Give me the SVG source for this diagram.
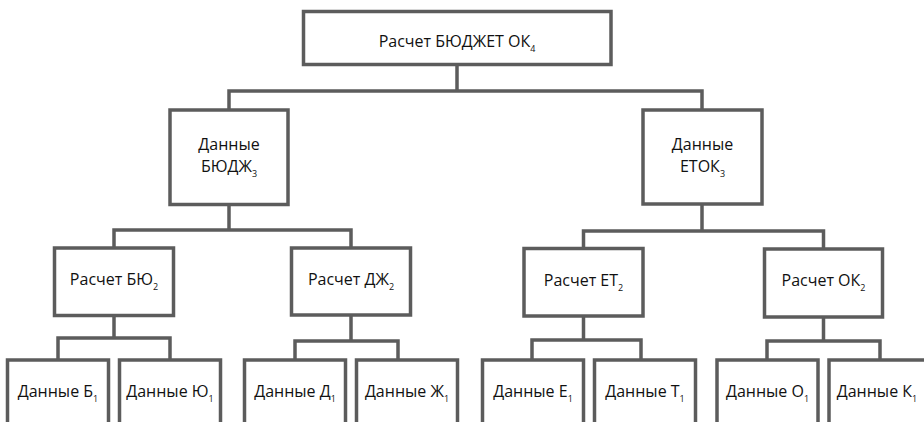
<svg xmlns="http://www.w3.org/2000/svg" width="924" height="422" viewBox="0 0 924 422">
  <style>
    .box { fill: #ffffff; stroke: #5c5c5c; stroke-width: 3.5; }
    .wire { fill: none; stroke: #5c5c5c; stroke-width: 3.5; stroke-linejoin: miter; }
    .lbl { font-family: "Open Sans", "Liberation Sans", sans-serif; font-size: 16px; fill: #111111; text-anchor: middle; }
    .sub { font-size: 9px; }
  </style>
  <rect width="924" height="422" fill="#ffffff"/>

  <!-- connectors -->
  <g id="connectors">
    <path class="wire" d="M457,64.5 V91 M229,110 V91 H702 V110"/>
    <path class="wire" d="M229,204 V230 M114,248 V230 H351 V248"/>
    <path class="wire" d="M702,204 V231 M583.5,248.5 V231 H823.5 V249"/>
    <path class="wire" d="M114,315 V338 M58,360 V338 H170 V360"/>
    <path class="wire" d="M351,315 V341 M295,360 V341 H398 V360"/>
    <path class="wire" d="M583.5,316 V340 M532,360 V340 H641 V360"/>
    <path class="wire" d="M823.5,317 V341 M767,360 V341 H880 V360"/>
  </g>

  <!-- level 4 -->
  <g id="budget">
    <rect class="box" x="303.5" y="11.5" width="307.5" height="53"/>
    <text class="lbl" x="457" y="47">Расчет БЮДЖЕТ ОК<tspan class="sub" dy="4.5">4</tspan></text>
  </g>

  <!-- level 3 -->
  <g id="data-budzh">
    <rect class="box" x="170" y="110" width="118" height="94.5"/>
    <text class="lbl" x="229" y="150">Данные</text>
    <text class="lbl" x="229" y="172">БЮДЖ<tspan class="sub" dy="4.5">3</tspan></text>
  </g>
  <g id="data-etok">
    <rect class="box" x="643" y="110" width="119" height="94"/>
    <text class="lbl" x="702.5" y="150">Данные</text>
    <text class="lbl" x="702.5" y="172">ЕТОК<tspan class="sub" dy="4.5">3</tspan></text>
  </g>

  <!-- level 2 -->
  <g id="calc-byu">
    <rect class="box" x="54.5" y="248" width="119" height="67.5"/>
    <text class="lbl" x="114" y="285">Расчет БЮ<tspan class="sub" dy="4.5">2</tspan></text>
  </g>
  <g id="calc-dzh">
    <rect class="box" x="291.5" y="248" width="119" height="67"/>
    <text class="lbl" x="351" y="285">Расчет ДЖ<tspan class="sub" dy="4.5">2</tspan></text>
  </g>
  <g id="calc-et">
    <rect class="box" x="524" y="248.5" width="119" height="67.5"/>
    <text class="lbl" x="583.5" y="286">Расчет ЕТ<tspan class="sub" dy="4.5">2</tspan></text>
  </g>
  <g id="calc-ok">
    <rect class="box" x="764.5" y="249" width="118" height="68"/>
    <text class="lbl" x="823.5" y="286">Расчет ОК<tspan class="sub" dy="4.5">2</tspan></text>
  </g>

  <!-- level 1 -->
  <g id="data-b">
    <rect class="box" x="7.5" y="360" width="101" height="80"/>
    <text class="lbl" x="58" y="397">Данные Б<tspan class="sub" dy="4.5">1</tspan></text>
  </g>
  <g id="data-yu">
    <rect class="box" x="119.5" y="360" width="101" height="80"/>
    <text class="lbl" x="170" y="397">Данные Ю<tspan class="sub" dy="4.5">1</tspan></text>
  </g>
  <g id="data-d">
    <rect class="box" x="244.5" y="360" width="101" height="80"/>
    <text class="lbl" x="295" y="397">Данные Д<tspan class="sub" dy="4.5">1</tspan></text>
  </g>
  <g id="data-zh">
    <rect class="box" x="356.5" y="360" width="101" height="80"/>
    <text class="lbl" x="407" y="397">Данные Ж<tspan class="sub" dy="4.5">1</tspan></text>
  </g>
  <g id="data-e">
    <rect class="box" x="482.5" y="360" width="101" height="80"/>
    <text class="lbl" x="533" y="397">Данные Е<tspan class="sub" dy="4.5">1</tspan></text>
  </g>
  <g id="data-t">
    <rect class="box" x="594.5" y="360" width="101" height="80"/>
    <text class="lbl" x="645" y="397">Данные Т<tspan class="sub" dy="4.5">1</tspan></text>
  </g>
  <g id="data-o">
    <rect class="box" x="717" y="360" width="101" height="80"/>
    <text class="lbl" x="767.5" y="397">Данные О<tspan class="sub" dy="4.5">1</tspan></text>
  </g>
  <g id="data-k">
    <rect class="box" x="829" y="360" width="101" height="80"/>
    <text class="lbl" x="877" y="397">Данные К<tspan class="sub" dy="4.5">1</tspan></text>
  </g>
</svg>
